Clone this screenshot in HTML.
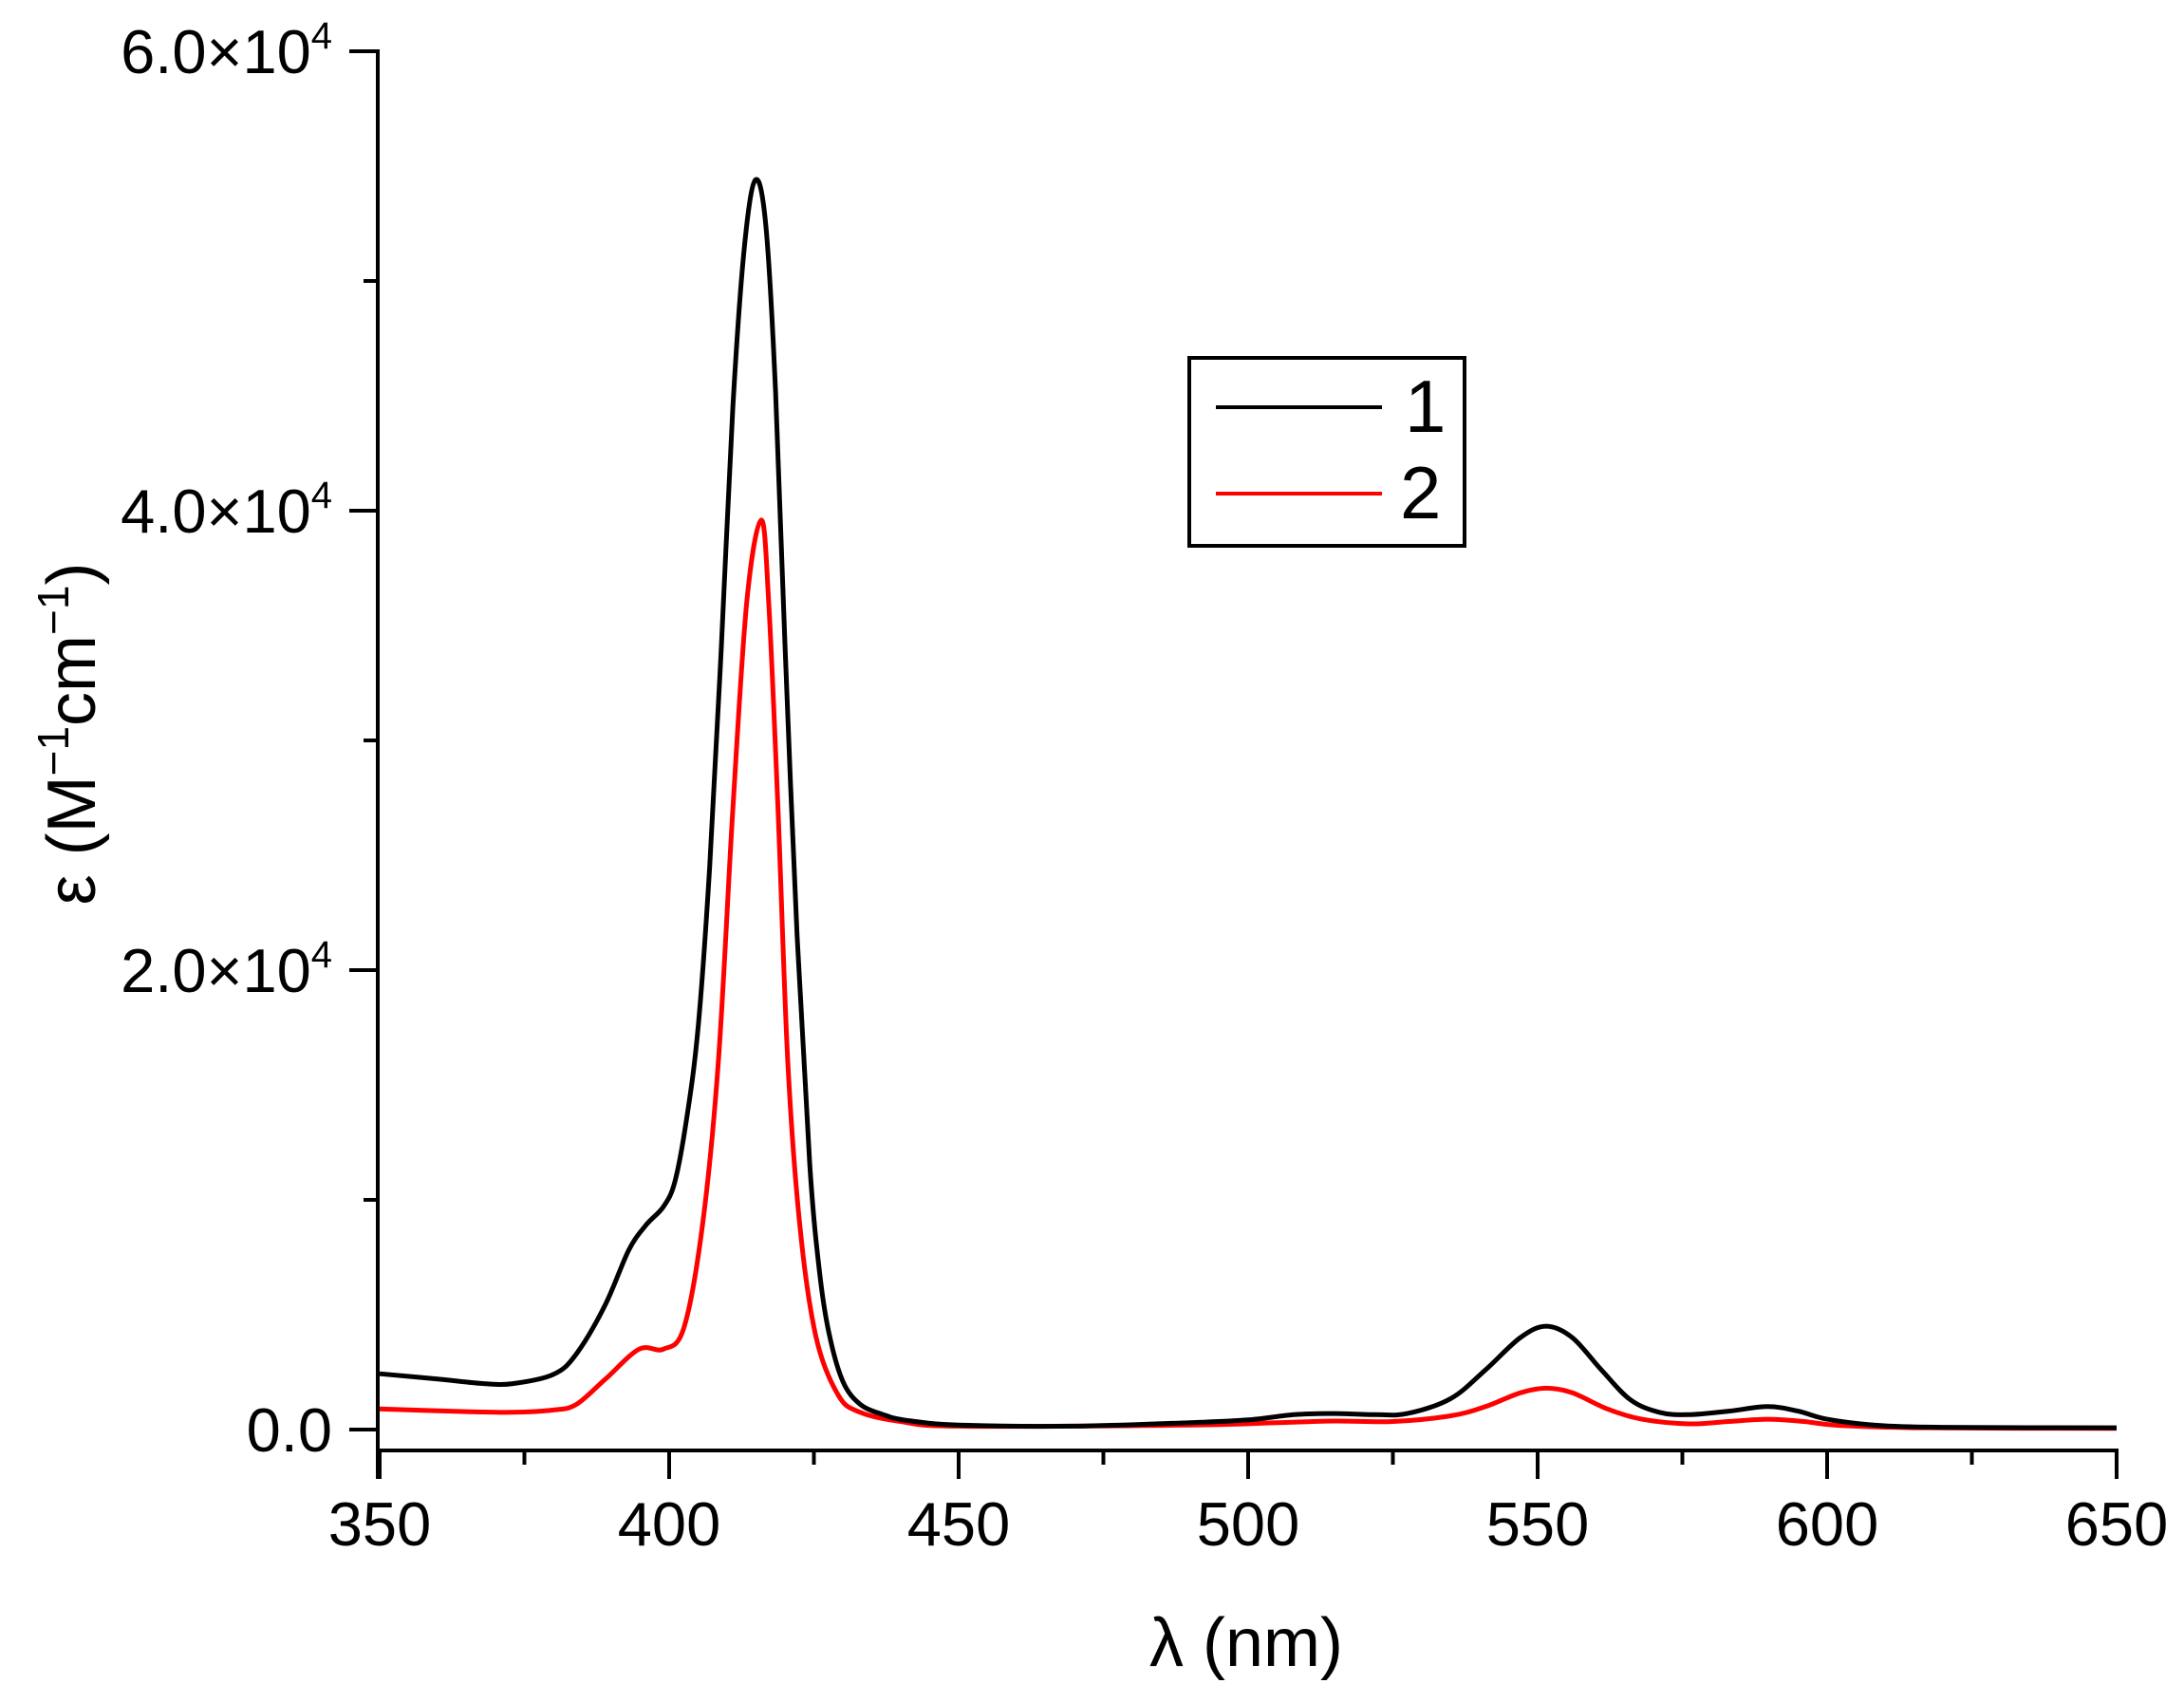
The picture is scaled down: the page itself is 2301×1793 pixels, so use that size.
<!DOCTYPE html>
<html><head><meta charset="utf-8"><style>
html,body{margin:0;padding:0;background:#fff;}
svg{display:block;}
text{font-family:"Liberation Sans",Arial,sans-serif;fill:#000;}
</style></head><body>
<svg id="s" width="2301" height="1793" viewBox="0 0 2301 1793" xmlns="http://www.w3.org/2000/svg">
<g stroke="#000" stroke-width="4" fill="none">
<line x1="398" y1="1528" x2="2232" y2="1528"/>
<line x1="398" y1="52" x2="398" y2="1558"/>
<line x1="368" y1="54" x2="398" y2="54"/>
<line x1="368" y1="538" x2="398" y2="538"/>
<line x1="368" y1="1022" x2="398" y2="1022"/>
<line x1="368" y1="1506" x2="398" y2="1506"/>
<line x1="383" y1="296" x2="398" y2="296"/>
<line x1="383" y1="780" x2="398" y2="780"/>
<line x1="383" y1="1264" x2="398" y2="1264"/>
<g id="xt"></g>
</g>
<g font-size="65" text-anchor="end">
<text x="350" y="77">6.0×10<tspan font-size="40" dy="-26">4</tspan></text>
<text x="350" y="561">4.0×10<tspan font-size="40" dy="-26">4</tspan></text>
<text x="350" y="1045">2.0×10<tspan font-size="40" dy="-26">4</tspan></text>
<text x="350" y="1529">0.0</text>
</g>
<g font-size="65" text-anchor="middle" id="xl"></g>
<text x="1313" y="1755" font-size="72" text-anchor="middle">λ (nm)</text>
<text transform="translate(100,773) rotate(-90)" font-size="72" text-anchor="middle">ε (M<tspan font-size="46" dy="-28">−1</tspan><tspan dy="28">cm</tspan><tspan font-size="46" dy="-28">−1</tspan><tspan dy="28">)</tspan></text>
<path id="red" fill="none" stroke="#ff0000" stroke-width="5" stroke-linejoin="round"/>
<path id="blk" fill="none" stroke="#000" stroke-width="5" stroke-linejoin="round"/>
<rect x="1253" y="377" width="290" height="198" fill="#fff" stroke="#000" stroke-width="4"/>
<line x1="1281" y1="429" x2="1456" y2="429" stroke="#000" stroke-width="4"/>
<line x1="1281" y1="520" x2="1456" y2="520" stroke="#ff0000" stroke-width="4"/>
<text x="1480" y="455" font-size="78">1</text>
<text x="1475" y="546" font-size="78">2</text>
</svg>
<script>
var NS="http://www.w3.org/2000/svg";
function X(n){return 400+(n-350)*6.1;}
function Y(v){return 1506-v*0.0242;}
var xt=document.getElementById('xt'),xl=document.getElementById('xl');
for(var n=350;n<=650;n+=25){
 var l=document.createElementNS(NS,'line');var maj=(n%50==0);
 l.setAttribute('x1',X(n));l.setAttribute('x2',X(n));l.setAttribute('y1',1528);l.setAttribute('y2',maj?1558:1543);xt.appendChild(l);
 if(maj){var t=document.createElementNS(NS,'text');t.setAttribute('x',X(n));t.setAttribute('y',1628);t.textContent=n;xl.appendChild(t);}
}
var black=[[350,2430],[360,2200],[368,2000],[373,2000],[380,2400],[384,3300],[389,5450],[393,7800],[396,8900],[399,9700],[401,10800],[403,13500],[405,17500],[407,24500],[409,34000],[411,44500],[413,51500],[414.9,54400],[416.7,52400],[418.4,45100],[420,34200],[422.1,21500],[424.3,11500],[426,6800],[427.6,4200],[430,2100],[433,1100],[437,650],[441,400],[450,200],[470,150],[490,300],[500,420],[508,650],[515,700],[522,650],[527.5,700],[535,1350],[541,2600],[547,4000],[551.5,4500],[556,4000],[561,2600],[566,1300],[571,750],[576,650],[583,800],[589.7,1000],[595,800],[600,450],[608,200],[620,100],[650,80]];
var red=[[350,900],[365,780],[373,750],[380,850],[384,1100],[389,2200],[394.8,3500],[399,3500],[402.5,4400],[405.7,8800],[408.5,16000],[411,27000],[413.4,36000],[415.9,39600],[417.2,36000],[418.8,27000],[420.5,16000],[422.6,8800],[425.4,4000],[429.2,1500],[433,750],[440,350],[450,150],[490,200],[505,300],[515,370],[525,350],[535,600],[541,1000],[547,1600],[551.5,1800],[556,1600],[562,900],[568,450],[576,250],[583,350],[589.7,450],[596,350],[602,180],[615,80],[650,50]];
function path(pts){var p=pts.map(function(a){return [X(a[0]),Y(a[1])];});
 var d="M"+p[0][0]+","+p[0][1];
 for(var i=0;i<p.length-1;i++){var p0=p[i-1]||p[i],p1=p[i],p2=p[i+1],p3=p[i+2]||p2;
  var c1x=p1[0]+(p2[0]-p0[0])/6,c1y=p1[1]+(p2[1]-p0[1])/6,c2x=p2[0]-(p3[0]-p1[0])/6,c2y=p2[1]-(p3[1]-p1[1])/6;
  d+=" C"+c1x.toFixed(1)+","+c1y.toFixed(1)+" "+c2x.toFixed(1)+","+c2y.toFixed(1)+" "+p2[0].toFixed(1)+","+p2[1].toFixed(1);}
 return d;}
document.getElementById('blk').setAttribute('d',path(black));
document.getElementById('red').setAttribute('d',path(red));
</script>
</body></html>
